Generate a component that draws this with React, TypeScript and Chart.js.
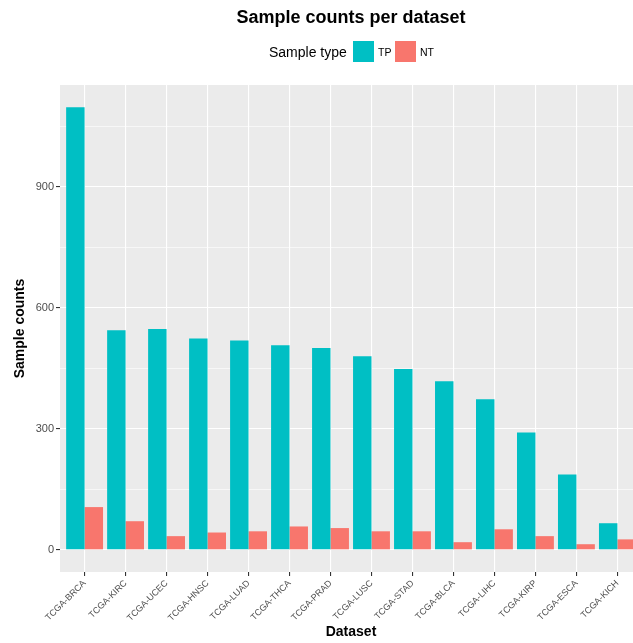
import React, { useEffect, useRef } from 'react';
import { Chart, registerables } from 'chart.js';

Chart.register(...registerables);

const FONT = '"Liberation Sans", Arial, Helvetica, sans-serif';

const CATEGORIES = [
  'TCGA-BRCA', 'TCGA-KIRC', 'TCGA-UCEC', 'TCGA-HNSC', 'TCGA-LUAD', 'TCGA-THCA', 'TCGA-PRAD',
  'TCGA-LUSC', 'TCGA-STAD', 'TCGA-BLCA', 'TCGA-LIHC', 'TCGA-KIRP', 'TCGA-ESCA', 'TCGA-KICH',
];
const TP_VALUES = [1097, 544, 547, 524, 519, 507, 500, 480, 448, 418, 373, 291, 187, 66];
const NT_VALUES = [106, 71, 34, 43, 46, 58, 54, 46, 46, 19, 51, 34, 14, 26];
const SERIES = ['TP', 'NT'];
const SERIES_COLORS = ['#00BFC4', '#F8766D'];
const Y_GRID_TICKS = [0, 150, 300, 450, 600, 750, 900, 1050];
const Y_LABEL_TICKS = [0, 300, 600, 900];

const TITLE = 'Sample counts per dataset';
const LEGEND_TITLE = 'Sample type';
const X_TITLE = 'Dataset';
const Y_TITLE = 'Sample counts';

const W = 650;
const H = 643;

const decorPlugin = {
  id: 'decor',
  beforeDraw(chart: any) {
    const { ctx, chartArea: a } = chart;
    ctx.save();
    ctx.fillStyle = '#EBEBEB';
    ctx.fillRect(a.left, a.top, a.right - a.left, a.bottom - a.top);
    ctx.restore();
  },
  afterDraw(chart: any) {
    const { ctx, chartArea: a } = chart;
    ctx.save();
    ctx.fillStyle = '#000000';
    ctx.textBaseline = 'alphabetic';
    ctx.textAlign = 'center';
    ctx.font = `bold 18px ${FONT}`;
    ctx.fillText(TITLE, (a.left + a.right) / 2, 23);

    ctx.textAlign = 'left';
    ctx.font = `14px ${FONT}`;
    ctx.fillText(LEGEND_TITLE, 269, 57);
    const swX = [353, 395];
    SERIES.forEach((s, i) => {
      ctx.fillStyle = SERIES_COLORS[i];
      ctx.fillRect(swX[i], 41, 21, 21);
      ctx.fillStyle = '#000000';
      ctx.font = `10.5px ${FONT}`;
      ctx.fillText(s, swX[i] + 25, 55.5);
    });
    ctx.restore();
  },
};

export default function App() {
  const ref = useRef<HTMLCanvasElement | null>(null);

  useEffect(() => {
    if (!ref.current) return;
    Chart.defaults.font.family = FONT;
    const chart = new Chart(ref.current, {
      type: 'bar',
      data: {
        datasets: SERIES.map((s, si) => ({
          label: s,
          data: (si === 0 ? TP_VALUES : NT_VALUES).map((v, i) => ({ x: i, y: v })),
          backgroundColor: SERIES_COLORS[si],
          borderWidth: 0,
          categoryPercentage: 0.9,
          barPercentage: 1.0,
        })),
      },
      options: {
        responsive: false,
        animation: false,
        events: [],
        layout: { padding: { top: 85, right: W - 642, left: 0, bottom: 0 } },
        plugins: {
          legend: { display: false },
          title: { display: false },
          tooltip: { enabled: false },
        },
        scales: {
          x: {
            type: 'linear',
            offset: false,
            min: -0.6,
            max: CATEGORIES.length - 1 + 0.6,
            afterBuildTicks: (ax: any) => {
              ax.ticks = CATEGORIES.map((_, i) => ({ value: i }));
            },
            afterFit: (ax: any) => {
              ax.height = 71;
            },
            ticks: {
              autoSkip: false,
              minRotation: 45,
              maxRotation: 45,
              padding: 2,
              color: '#4D4D4D',
              font: { size: 9 },
              callback: (v: any) => CATEGORIES[v as number],
            },
            grid: {
              offset: false,
              color: '#FFFFFF',
              lineWidth: 1.1,
              tickColor: '#333333',
              tickLength: 4,
              tickWidth: 1.1,
            },
            border: { display: false },
            title: {
              display: true,
              text: X_TITLE,
              color: '#000000',
              font: { size: 14, weight: 'bold' },
              padding: { top: 0, bottom: 2 },
            },
          },
          y: {
            type: 'linear',
            min: -54.85,
            max: 1151.85,
            afterBuildTicks: (ax: any) => {
              ax.ticks = Y_GRID_TICKS.map((v) => ({ value: v }));
            },
            afterFit: (ax: any) => {
              ax.width = 60;
            },
            ticks: {
              padding: 2,
              color: '#4D4D4D',
              font: { size: 11 },
              callback: (v: any) => (Y_LABEL_TICKS.includes(v as number) ? String(v) : ''),
            },
            grid: {
              color: '#FFFFFF',
              lineWidth: (c: any) => (Y_LABEL_TICKS.includes(c.tick?.value) ? 1.1 : 0.6),
              tickColor: (c: any) => (Y_LABEL_TICKS.includes(c.tick?.value) ? '#333333' : 'rgba(0,0,0,0)'),
              tickLength: 4,
              tickWidth: 1.1,
            },
            border: { display: false },
            title: {
              display: true,
              text: Y_TITLE,
              color: '#000000',
              font: { size: 14, weight: 'bold' },
              padding: { top: 11.5, bottom: 0 },
            },
          },
        },
      },
      plugins: [decorPlugin],
    } as any);
    return () => chart.destroy();
  }, []);

  return (
    <div
      style={{
        position: 'fixed',
        left: 0,
        top: 0,
        width: 633,
        height: H,
        overflow: 'hidden',
        background: '#FFFFFF',
      }}
    >
      <canvas ref={ref} width={W} height={H} style={{ display: 'block', width: W, height: H }} />
    </div>
  );
}
